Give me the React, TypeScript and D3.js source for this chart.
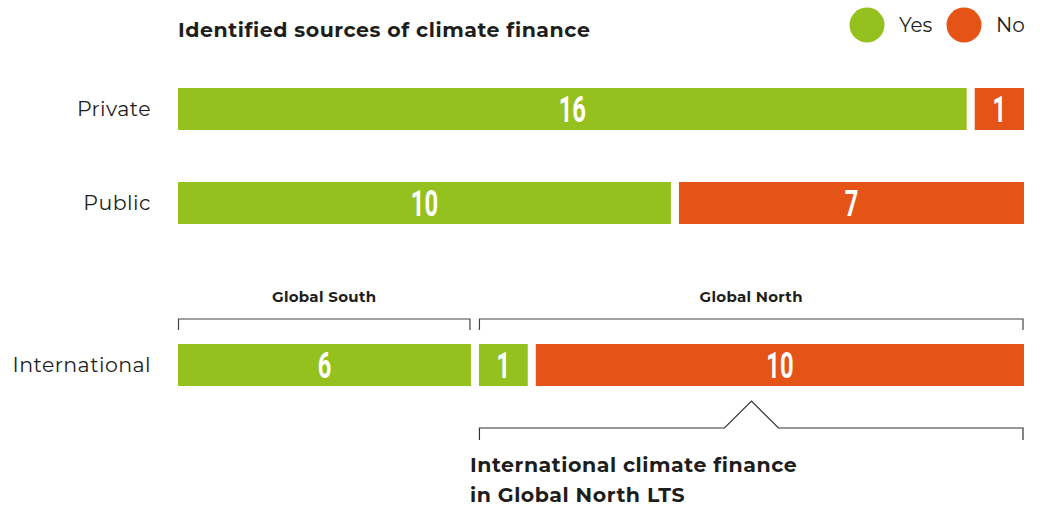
import React from "react";
import * as d3 from "d3";

const categories = ["Private", "Public", "International"];
const privateValues = [16, 1];
const privateKinds = ["Yes", "No"];
const publicValues = [10, 7];
const publicKinds = ["Yes", "No"];
const internationalValues = [6, 1, 10];
const internationalKinds = ["Yes", "Yes", "No"];
const legendLabels = ["Yes", "No"];
const groupLabels = ["Global South", "Global North"];
const groupSpans = [[0, 6], [6, 17]];
const title = "Identified sources of climate finance";
const noteLines = ["International climate finance", "in Global North LTS"];

const W = 1040;
const H = 507;
const GREEN = "#95C11F";
const RED = "#E65316";
const TEXT = "#1d1d1b";
const FONT = "Montserrat, 'Open Sans', 'Noto Sans', sans-serif";
const NUMFONT = "Roboto, 'Noto Sans', sans-serif";

export default function App() {
  const left = 178;
  const right = 1024;
  const gap = 8;
  const color = d3.scaleOrdinal<string, string>().domain(legendLabels).range([GREEN, RED]);
  const rowY: Record<string, number> = { Private: 109, Public: 203, International: 365 };
  const barH = 42;
  const rows = [
    { name: categories[0], values: privateValues, kinds: privateKinds },
    { name: categories[1], values: publicValues, kinds: publicKinds },
    { name: categories[2], values: internationalValues, kinds: internationalKinds },
  ];

  const segs = (values: number[]) => {
    const total = d3.sum(values);
    const x = d3.scaleLinear().domain([0, total]).range([left, right - gap * (values.length - 1)]);
    const ends = d3.cumsum(values);
    return values.map((v, i) => {
      const s = i === 0 ? 0 : ends[i - 1];
      const e = ends[i];
      return { v, x0: x(s) + i * gap, x1: x(e) + i * gap };
    });
  };

  const intl = segs(internationalValues);
  const groupEdges = [
    [intl[0].x0, intl[0].x1],
    [intl[1].x0, intl[2].x1],
  ];

  const bracketTop = 319;
  const bracketTick = 11;
  const ncx = (groupEdges[1][0] + groupEdges[1][1]) / 2;
  const by = 428;

  return (
    <svg width={W} height={H} style={{ position: "absolute", left: 0, top: 0 }}>
      <rect width={W} height={H} fill="#fff" />
      <text x={178} y={37} fontFamily={FONT} fontWeight={700} fontSize={20.5} letterSpacing={0.55} fill={TEXT}>
        {title}
      </text>
      {legendLabels.map((l, i) => {
        const cx = i === 0 ? 867 : 964;
        return (
          <g key={l}>
            <circle cx={cx} cy={25} r={17.5} fill={color(l)} />
            <text x={cx + 32} y={32} fontFamily={FONT} fontSize={20} fill={TEXT}>
              {l}
            </text>
          </g>
        );
      })}
      {rows.map((r) => {
        const cy = rowY[r.name];
        return (
          <g key={r.name}>
            <text x={151} y={cy + 7} textAnchor="end" fontFamily={FONT} fontSize={20.5} letterSpacing={0.45} fill={TEXT}>
              {r.name}
            </text>
            {segs(r.values).map((s, i) => {
              const cx = (s.x0 + s.x1) / 2;
              return (
                <g key={i}>
                  <rect x={s.x0} y={cy - barH / 2} width={s.x1 - s.x0} height={barH} fill={color(r.kinds[i])} />
                  <text
                    transform={`translate(${cx},${cy + 13}) scale(0.66,1)`}
                    textAnchor="middle"
                    fontFamily={NUMFONT}
                    fontWeight={700}
                    fontSize={36}
                    fill="#fff"
                  >
                    {s.v}
                  </text>
                </g>
              );
            })}
          </g>
        );
      })}
      {groupEdges.map(([a0, b0], i) => {
        const a = a0 + 0.5;
        const b = b0 - 1;
        return (
          <g key={i}>
            <text
              x={(a + b) / 2}
              y={302}
              textAnchor="middle"
              fontFamily={FONT}
              fontWeight={700}
              fontSize={15}
              letterSpacing={0.3}
              fill={TEXT}
            >
              {groupLabels[i]}
            </text>
            <path
              d={`M${a},${bracketTop + bracketTick}V${bracketTop}H${b}V${bracketTop + bracketTick}`}
              fill="none"
              stroke="#444"
              strokeWidth={1.2}
            />
          </g>
        );
      })}
      <path
        d={`M${groupEdges[1][0] + 0.5},${by + 12}V${by}H${ncx - 27}L${ncx},${by - 27}L${ncx + 27},${by}H${groupEdges[1][1] - 1}V${by + 12}`}
        fill="none"
        stroke="#333"
        strokeWidth={1.2}
      />
      {noteLines.map((t, i) => (
        <text key={i} x={470} y={472 + i * 30} fontFamily={FONT} fontWeight={700} fontSize={20.5} letterSpacing={0.55} fill={TEXT}>
          {t}
        </text>
      ))}
    </svg>
  );
}
